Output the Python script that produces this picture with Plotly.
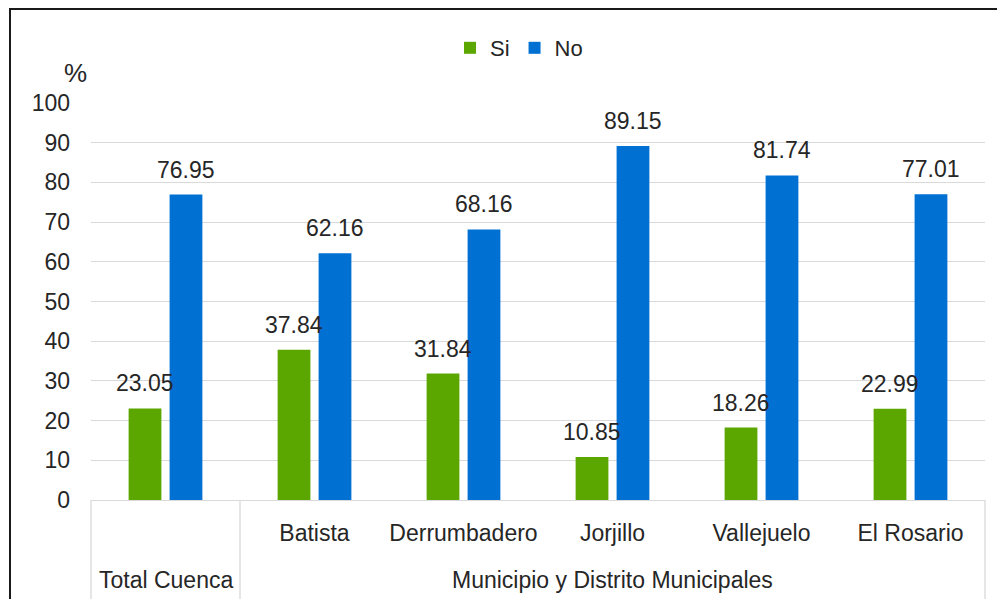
import plotly.graph_objects as go

categories = ["Total Cuenca", "Batista", "Derrumbadero", "Jorjillo", "Vallejuelo", "El Rosario"]
inner_labels = ["", "Batista", "Derrumbadero", "Jorjillo", "Vallejuelo", "El Rosario"]
si_values = [23.05, 37.84, 31.84, 10.85, 18.26, 22.99]
no_values = [76.95, 62.16, 68.16, 89.15, 81.74, 77.01]
group_labels = ["Total Cuenca", "Municipio y Distrito Municipales"]
y_ticks = [0, 10, 20, 30, 40, 50, 60, 70, 80, 90, 100]

GREEN = "#5ba700"
BLUE = "#0070d2"
FONT = "Liberation Sans, Arial, sans-serif"
TXT = "#262626"
GRID = "#d9d9d9"

OFF = 8  # page body margin
W, H = 1005 - 2 * OFF, 607 - 2 * OFF
# plot area in screen pixels
SL, SR, ST, SB = 91, 985, 103, 500
ML, MT = SL - OFF, ST - OFF
PW, PH = SR - SL, SB - ST
MR = W - ML - PW
MB = H - MT - PH

def px(x):
    return (x - SL) / PW

def py(y):
    return (SB - y) / PH

BARGAP = 0.45
SLOT = (1 - BARGAP) / 2

fig = go.Figure()
fig.add_trace(go.Bar(name="Si", x=categories, y=si_values, marker_color=GREEN, marker_line_width=0))
fig.add_trace(go.Bar(name="No", x=categories, y=no_values, marker_color=BLUE, marker_line_width=0))

annotations = []
for i, (s, n) in enumerate(zip(si_values, no_values)):
    for off, v in ((-SLOT / 2, s), (SLOT / 2, n)):
        annotations.append(dict(x=i + off, y=v, xref="x", yref="y", text=f"{v:.2f}",
                                showarrow=False, yanchor="middle", yshift=25,
                                font=dict(family=FONT, size=23, color=TXT)))
# group labels (outer level of the category axis)
annotations.append(dict(x=0, y=py(580), xref="x", yref="paper", text=group_labels[0],
                        showarrow=False, yanchor="middle", font=dict(family=FONT, size=23, color=TXT)))
annotations.append(dict(x=3, y=py(580), xref="x", yref="paper", text=group_labels[1],
                        showarrow=False, yanchor="middle", font=dict(family=FONT, size=23, color=TXT)))
annotations.append(dict(x=px(75), y=py(73), xref="paper", yref="paper", text="%",
                        showarrow=False, xanchor="center", yanchor="middle",
                        font=dict(family=FONT, size=26, color=TXT)))

shapes = [
    dict(type="line", xref="paper", yref="paper", x0=px(9), x1=px(1030), y0=py(9), y1=py(9),
         line=dict(color="#1a1a1a", width=2), layer="above"),
    dict(type="line", xref="paper", yref="paper", x0=px(10), x1=px(10), y0=py(8), y1=py(640),
         line=dict(color="#1a1a1a", width=2), layer="above"),
]
for xv, ref in ((0, "paper"), (0.5, "x"), (1, "paper")):
    shapes.append(dict(type="line", xref=ref, yref="paper", x0=xv, x1=xv, y0=0, y1=py(640),
                       line=dict(color=GRID, width=1.3)))

fig.update_layout(
    width=W, height=H,
    margin=dict(l=ML, r=MR, t=MT, b=MB),
    paper_bgcolor="white", plot_bgcolor="white",
    barmode="group", bargap=BARGAP, bargroupgap=0.2,
    font=dict(family=FONT, size=23, color=TXT),
    legend=dict(orientation="h", x=px(519), xanchor="center", y=py(48), yanchor="middle",
                font=dict(family=FONT, size=22, color=TXT), itemwidth=30, traceorder="normal"),
    annotations=annotations,
    shapes=shapes,
    showlegend=True,
)
fig.update_xaxes(type="category", tickvals=categories, ticktext=inner_labels,
                 showline=True, linecolor=GRID, linewidth=1.3, showgrid=False,
                 ticks="", ticklabelstandoff=12, tickfont=dict(family=FONT, size=23, color=TXT),
                 range=[-0.5, len(categories) - 0.5])
fig.update_yaxes(range=[0, 100], tickvals=y_ticks, showgrid=True, gridcolor=GRID, gridwidth=1.3,
                 zeroline=False, showline=False, ticks="", ticklabelstandoff=20,
                 tickfont=dict(family=FONT, size=23, color=TXT))

fig.write_html("out.html")
